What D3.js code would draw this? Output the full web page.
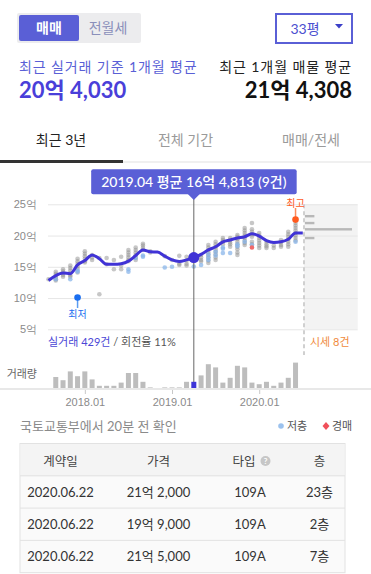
<!DOCTYPE html>
<html>
<head>
<meta charset="utf-8">
<script src="https://cdn.jsdelivr.net/npm/d3@7"></script>
<style>
  body { margin: 0; background: #fff; }
  svg { display: block; font-family: Lato, "Noto Sans CJK KR", sans-serif; }
</style>
</head>
<body>
<svg width="371" height="574"></svg>
<script>
// ---- data ----
let months = ["2017.08","2017.09","2017.10","2017.11","2017.12","2018.01","2018.02","2018.03","2018.04","2018.05","2018.06","2018.07",
    "2018.08","2018.09","2018.10","2018.11","2018.12","2019.01","2019.02","2019.03","2019.04","2019.05","2019.06","2019.07",
    "2019.08","2019.09","2019.10","2019.11","2019.12","2020.01","2020.02","2020.03","2020.04","2020.05","2020.06","2020.07"];
// monthly average price (억)
let monthlyAvg = [12.8,13.6,14.0,13.9,15.3,16.0,16.9,16.3,15.4,15.4,15.5,15.9,
    16.8,17.7,17.4,17.35,16.7,16.1,15.85,16.1,16.4813,17.0,17.7,18.2,
    19.0,19.3,19.6,19.8,20.3,19.9,19.2,18.9,19.0,19.4,20.4,20.403];
// monthly number of deals
let monthlyVolume = [1,15,11,22,16,22,12,4,4,4,8,20,
    20,9,2,0,2,2,2,9,9,17,31,27,
    8,14,29,27,8,6,9,4,8,14,33,0];
// individual deals (억), one list per month
let dealPrices = [
    [13.0],
    [14.2,13.9,13.6,13.3,13.0,12.8],
    [14.6,14.3,14.0,13.7,13.4],
    [15.2,14.8,14.4,14.0,13.6,13.4],
    [16.3,15.9,15.5,15.1,14.7,14.1],
    [17.5,17.1,16.7,16.3,15.9,15.7],
    [16.9,16.5,16.1],
    [16.4,10.6],
    [16.4,15.4],
    [16.1,14.6],
    [16.6,15.2,14.6],
    [17.7,17.3,16.9,16.5,16.1,15.9],
    [18.1,17.7,17.3,16.9,16.5,16.1],
    [18.7,18.4,18.0,17.7],
    [17.5,17.3],
    [],
    [16.7],
    [16.1],
    [16.75,15.5,15.3],
    [16.6,16.0,15.5,15.2],
    [17.0,16.8,16.5,16.2,15.9],
    [16.9,16.5,16.1,15.85],
    [18.5,18.1,17.7,17.3,16.9,16.5,16.0,15.6],
    [19.0,18.6,18.2,17.8,17.4,17.0,16.5,16.1],
    [19.6,19.3,19.0,18.6],
    [19.6,19.3,18.9,18.6,18.2],
    [20.1,19.8,19.4,19.0,18.6,18.2,17.8,17.3,16.9],
    [21.2,20.8,20.4,20.0,19.6,19.2,18.8,18.5],
    [22.0,21.0,20.6,20.2,19.8,19.0,18.6],
    [20.4,20.0,19.6,19.2,18.8,18.4,18.0],
    [19.0,18.6,18.3,18.0],
    [18.4,18.0],
    [19.3,18.9,18.5,18.2],
    [20.6,20.2,19.8,19.4,19.0,18.6,18.2],
    [22.0,21.6,21.2,20.8,20.4,20.0,19.6,19.2],
    []
];
// low floor deals (저층)
let lowFloorPrices = [
    [], [13.0], [], [13.0], [14.4,14.2], [], [], [], [], [], [], [14.6,14.2],
    [16.4], [16.8,16.6], [], [], [14.9], [15.0], [], [], [15.05], [15.3], [17.0,16.5,16.1], [17.4,16.8],
    [18.1,17.9,17.2], [17.2], [18.6,18.3], [19.0], [18.5], [], [], [], [], [], [19.0], []
];
let auctionMonths = ["2019.12"], auctionPrices = [18.1];
let lowMonth = "2017.12", lowPrice = 10.1;
let highMonth = "2020.06", highPrice = 22.55;
// 시세 (listing) distribution
let listingPrices = [23.1, 22.0, 21.0, 19.6];
let listingCounts = [1, 1, 5, 1];
let selectedMonth = "2019.04";
let yTicks = [5, 10, 15, 20, 25];
let xTicks = ["2018.01", "2019.01", "2020.01"];
let tabLabels = ["최근 3년", "전체 기간", "매매/전세"];
let tableHead = ["계약일", "가격", "타입", "층"];
let tradeDates = ["2020.06.22", "2020.06.22", "2020.06.22"];
let tradePrices = ["21억 2,000", "19억 9,000", "21억 5,000"];
let tradeTypes = ["109A", "109A", "109A"];
let tradeFloors = ["23층", "2층", "7층"];

const PURPLE = "#5a5fd6", LINE = "#4033d6";

let svg = d3.select("svg");

// ---- header ----
svg.append("rect").attr("x", 17).attr("y", 13).attr("width", 124).attr("height", 30).attr("rx", 2).attr("fill", "#ececee");
svg.append("rect").attr("x", 19).attr("y", 15).attr("width", 60).attr("height", 26).attr("rx", 2).attr("fill", PURPLE);
svg.append("text").attr("x", 49).attr("y", 33).attr("text-anchor", "middle").attr("fill", "#fff")
    .attr("font-size", 14).attr("font-weight", "bold").text("매매");
svg.append("text").attr("x", 108).attr("y", 33).attr("text-anchor", "middle").attr("fill", "#8a8fba")
    .attr("font-size", 14).text("전월세");

svg.append("rect").attr("x", 276).attr("y", 14).attr("width", 76).attr("height", 29)
    .attr("fill", "#fff").attr("stroke", PURPLE).attr("stroke-width", 2);
svg.append("text").attr("x", 305).attr("y", 34).attr("text-anchor", "middle").attr("fill", "#4c4fd0")
    .attr("font-size", 14).text("33평");
svg.append("path").attr("d", "M335,24L343,24L339,28.5Z").attr("fill", "#3b3fc8");

svg.append("text").attr("x", 19).attr("y", 72).attr("fill", PURPLE).attr("font-size", 14)
    .attr("letter-spacing", 0.9).text("최근 실거래 기준 1개월 평균");
svg.append("text").attr("x", 19).attr("y", 98).attr("fill", "#4a3fd9").attr("font-size", 22)
    .attr("font-weight", "bold").text("20억 4,030");
svg.append("text").attr("x", 352).attr("y", 72).attr("text-anchor", "end").attr("fill", "#222").attr("font-size", 14)
    .attr("letter-spacing", 0.9).text("최근 1개월 매물 평균");
svg.append("text").attr("x", 352).attr("y", 98).attr("text-anchor", "end").attr("fill", "#111").attr("font-size", 22)
    .attr("font-weight", "bold").text("21억 4,308");

// ---- tabs ----
[61, 185.5, 311].forEach((cx, i) => {
    svg.append("text").attr("x", cx).attr("y", 145).attr("text-anchor", "middle")
        .attr("fill", i === 0 ? "#222" : "#9a9a9a").attr("font-size", 14).text(tabLabels[i]);
});
svg.append("rect").attr("x", 0).attr("y", 161.5).attr("width", 371).attr("height", 1).attr("fill", "#e2e2e2");
svg.append("rect").attr("x", 0).attr("y", 160).attr("width", 123).attr("height", 3).attr("fill", "#333");

// ---- scales ----
let x = d3.scalePoint().domain(months).range([48.5, 302.8]),
    y = d3.scaleLinear().domain([5, 25]).range([329.3, 204.3]),
    yVol = d3.scaleLinear().domain([0, 40]).range([389, 357]),
    xList = d3.scaleLinear().domain([0, 5]).range([305, 352]);
let plotRight = 357.7;

// listing area
svg.append("rect").attr("x", 304).attr("y", y(25)).attr("width", plotRight - 304).attr("height", y(5) - y(25)).attr("fill", "#f3f3f3");

// y grid + labels
let yAxis = svg.append("g").attr("transform", "translate(48,0)")
    .call(d3.axisLeft(y).tickValues(yTicks).tickSize(-(plotRight - 48)).tickPadding(11).tickFormat(d => d + "억"));
yAxis.select(".domain").remove();
yAxis.selectAll("line").attr("stroke", "#e6e6e6");
yAxis.selectAll("text").attr("fill", "#8a8a8a").attr("font-size", 11).attr("font-family", null);

// listing bars
svg.append("g").selectAll("rect").data(listingPrices).join("rect")
    .attr("x", xList(0)).attr("y", d => y(d) - 1.2)
    .attr("width", (d, i) => xList(listingCounts[i]) - xList(0)).attr("height", 2.4).attr("fill", "#b8b8b8");
svg.append("line").attr("x1", 304).attr("x2", 304).attr("y1", y(25)).attr("y2", 355)
    .attr("stroke", "#d0d0d0").attr("stroke-width", 2).attr("stroke-dasharray", "4,3");

// deal dots
let dealPts = [], lowPts = [];
months.forEach((m, i) => {
    dealPrices[i].forEach(p => dealPts.push([m, p]));
    lowFloorPrices[i].forEach(p => lowPts.push([m, p]));
});
svg.append("g").selectAll("circle").data(dealPts).join("circle")
    .attr("cx", d => x(d[0])).attr("cy", d => y(d[1])).attr("r", 2.3)
    .attr("fill", "#8f8f8f").attr("fill-opacity", 0.5);
svg.append("g").selectAll("circle").data(lowPts).join("circle")
    .attr("cx", d => x(d[0])).attr("cy", d => y(d[1])).attr("r", 2.3)
    .attr("fill", "#8ab6ea").attr("fill-opacity", 0.75);
svg.append("g").selectAll("circle").data(auctionPrices).join("circle")
    .attr("cx", (d, i) => x(auctionMonths[i])).attr("cy", d => y(d)).attr("r", 2.3).attr("fill", "#f06a6a");

// cursor line
let selIdx = months.indexOf(selectedMonth);
svg.append("line").attr("x1", x(selectedMonth)).attr("x2", x(selectedMonth)).attr("y1", 195).attr("y2", 389)
    .attr("stroke", "#666").attr("stroke-width", 1);

// average line
let line = d3.line().curve(d3.curveMonotoneX).x((d, i) => x(months[i])).y(d => y(d));
svg.append("path").datum(monthlyAvg).attr("d", line).attr("fill", "none")
    .attr("stroke", LINE).attr("stroke-width", 3).attr("stroke-linejoin", "round");
svg.append("circle").attr("cx", x(selectedMonth)).attr("cy", y(monthlyAvg[selIdx])).attr("r", 5.5).attr("fill", LINE);

// high / low markers
svg.append("line").attr("x1", x(highMonth)).attr("x2", x(highMonth)).attr("y1", 208).attr("y2", y(highPrice))
    .attr("stroke", "#ff8a5a").attr("stroke-width", 1.5);
svg.append("circle").attr("cx", x(highMonth)).attr("cy", y(highPrice)).attr("r", 3.3).attr("fill", "#ff5a1e");
svg.append("text").attr("x", x(highMonth)).attr("y", 206.5).attr("text-anchor", "middle").attr("fill", "#ff5a1e")
    .attr("font-size", 10).text("최고");
svg.append("line").attr("x1", x(lowMonth)).attr("x2", x(lowMonth)).attr("y1", y(lowPrice)).attr("y2", 308)
    .attr("stroke", "#5b9cf0").attr("stroke-width", 1.5);
svg.append("circle").attr("cx", x(lowMonth)).attr("cy", y(lowPrice)).attr("r", 3.3).attr("fill", "#1a6ef0");
svg.append("text").attr("x", x(lowMonth)).attr("y", 318).attr("text-anchor", "middle").attr("fill", "#1a6ef0")
    .attr("font-size", 10).text("최저");

// counts
let t = svg.append("text").attr("x", 48).attr("y", 346).attr("font-size", 11);
t.append("tspan").attr("fill", "#4b47d6").text("실거래 " + d3.sum(monthlyVolume) + "건");
t.append("tspan").attr("fill", "#555").text(" / 회전율 11%");
svg.append("text").attr("x", 310).attr("y", 346).attr("font-size", 11).attr("fill", "#f08a3c")
    .text("시세 " + d3.sum(listingCounts) + "건");

// volume bars
svg.append("text").attr("x", 37).attr("y", 378).attr("text-anchor", "end").attr("fill", "#666").attr("font-size", 11).text("거래량");
svg.append("g").selectAll("rect").data(monthlyVolume).join("rect")
    .attr("x", (d, i) => x(months[i]) - 2.5).attr("y", d => yVol(d))
    .attr("width", 5).attr("height", d => yVol(0) - yVol(d))
    .attr("fill", (d, i) => months[i] === selectedMonth ? "#3d35d8" : "#bdbdbd");

let xAxis = svg.append("g").attr("transform", "translate(0,389)")
    .call(d3.axisBottom(x).tickValues(xTicks).tickSize(5).tickPadding(4));
xAxis.select(".domain").remove();
xAxis.selectAll("line").attr("stroke", "#c8c8c8");
xAxis.selectAll("text").attr("fill", "#8a8a8a").attr("font-size", 11).attr("font-family", null);
svg.append("rect").attr("x", 0).attr("y", 388).attr("width", 371).attr("height", 2).attr("fill", "#e8e8e8");

// tooltip
let avgWon = Math.round(monthlyAvg[selIdx] * 10000);
let tipText = selectedMonth + " 평균 " + Math.floor(avgWon / 10000) + "억 " + d3.format(",")(avgWon % 10000)
    + " (" + monthlyVolume[selIdx] + "건)";
let tip = svg.append("g");
let tipRect = tip.append("rect").attr("fill", PURPLE).attr("rx", 2);
let tipLabel = tip.append("text").attr("x", x(selectedMonth)).attr("y", 187).attr("text-anchor", "middle")
    .attr("fill", "#fff").attr("font-size", 14).attr("font-weight", 500).text(tipText);
let bb = tipLabel.node().getBBox();
tipRect.attr("x", bb.x - 10).attr("y", 169.3).attr("width", bb.width + 20).attr("height", 25);
let cx = x(selectedMonth);
tip.append("path").attr("d", `M${cx - 6},194L${cx + 6},194L${cx},200Z`).attr("fill", PURPLE);

// ---- bottom info ----
svg.append("text").attr("x", 20).attr("y", 431).attr("fill", "#8a8a8a").attr("font-size", 13).text("국토교통부에서 20분 전 확인");
svg.append("circle").attr("cx", 281).attr("cy", 426).attr("r", 2.8).attr("fill", "#9cc2ee");
svg.append("text").attr("x", 287).attr("y", 430).attr("fill", "#555").attr("font-size", 11).text("저층");
svg.append("path").attr("d", "M326,422L329.5,426L326,430L322.5,426Z").attr("fill", "#f0505a");
svg.append("text").attr("x", 332).attr("y", 430).attr("fill", "#555").attr("font-size", 11).text("경매");

// ---- table ----
let colX = [60.5, 158.5, 250, 319.5];
let tableTop = 443.5, headH = 32.3, rowH = 32.3;
svg.append("rect").attr("x", 20).attr("y", tableTop).attr("width", 325).attr("height", headH + rowH * 3)
    .attr("fill", "#fafafa").attr("stroke", "#e2e2e2");
svg.append("rect").attr("x", 20.5).attr("y", tableTop + 0.5).attr("width", 324).attr("height", headH - 0.5).attr("fill", "#f4f4f4");
tableHead.forEach((h, i) => {
    svg.append("text").attr("x", colX[i] - (i === 2 ? 6 : 0)).attr("y", tableTop + 22).attr("text-anchor", "middle")
        .attr("fill", "#444").attr("font-size", 12.5).text(h);
});
svg.append("circle").attr("cx", 265.5).attr("cy", tableTop + 17.5).attr("r", 5).attr("fill", "#c6c6c6");
svg.append("text").attr("x", 265.5).attr("y", tableTop + 20.5).attr("text-anchor", "middle").attr("fill", "#fff")
    .attr("font-size", 8).attr("font-weight", "bold").text("?");
tradeDates.forEach((d, r) => {
    let top = tableTop + headH + r * rowH;
    svg.append("line").attr("x1", 20).attr("x2", 345).attr("y1", top).attr("y2", top).attr("stroke", "#e2e2e2");
    [d, tradePrices[r], tradeTypes[r], tradeFloors[r]].forEach((v, i) => {
        svg.append("text").attr("x", colX[i]).attr("y", top + 21).attr("text-anchor", "middle")
            .attr("fill", "#333").attr("font-size", 13).text(v);
    });
});
</script>
</body>
</html>
